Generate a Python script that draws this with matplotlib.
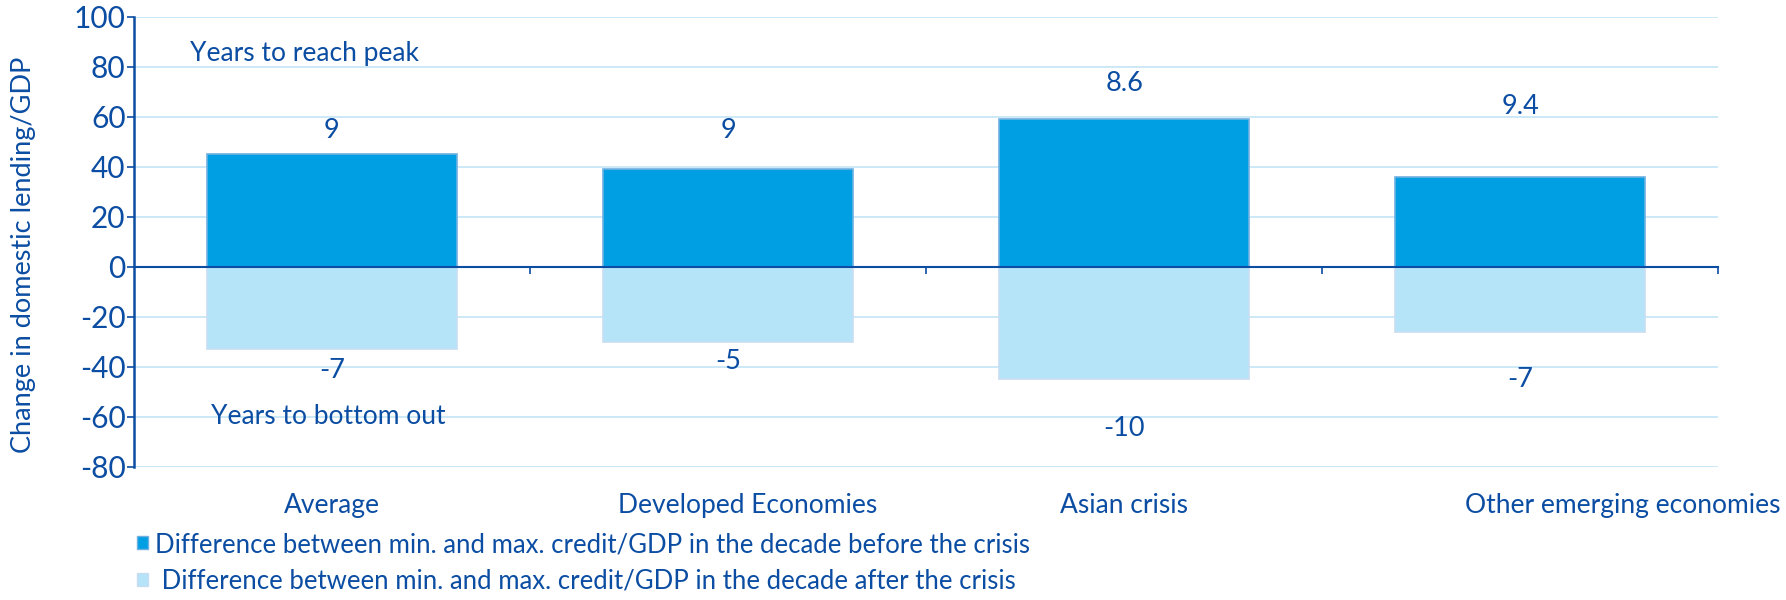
import matplotlib.pyplot as plt
from matplotlib.patches import Patch

categories = ['Average', 'Developed Economies', 'Asian crisis', 'Other emerging economies']
before = [45, 39, 59, 36]
after = [-33, -30, -45, -26]
years_peak = ['9', '9', '8.6', '9.4']
years_bottom = ['-7', '-5', '-10', '-7']
peak_label_y = [54.5, 54.5, 73.5, 64]
bottom_label_y = [-41.5, -38, -64.5, -45]
cat_label_shift = [0, 0.05, 0, 0.26]

navy = '#0B4DA2'
dark = '#009FE3'
light = '#B5E3F7'
grid = '#C3E4F5'

plt.rcParams['font.family'] = ['Lato', 'DejaVu Sans']
plt.rcParams['axes.unicode_minus'] = False

fig = plt.figure(figsize=(17.86, 6), dpi=100)
ax = fig.add_axes([0.075, 0.222, 0.887, 0.75])

x = [i + 0.5 for i in range(len(categories))]
ax.bar(x, before, width=0.63, color=dark, edgecolor='#6FB0E0', linewidth=1.2, zorder=3)
ax.bar(x, after, width=0.63, color=light, edgecolor='#C8DDF3', linewidth=1.2, zorder=3)

for xi, t, y in zip(x, years_peak, peak_label_y):
    ax.text(xi, y, t, ha='center', va='center', color=navy, fontsize=19.5)
for xi, t, y in zip(x, years_bottom, bottom_label_y):
    ax.text(xi, y, t, ha='center', va='center', color=navy, fontsize=19.5)

ax.text(0.43, 85.5, 'Years to reach peak', ha='center', va='center', color=navy, fontsize=19)
ax.text(0.49, -60, 'Years to bottom out', ha='center', va='center', color=navy, fontsize=19)

ax.set_xlim(0, 4)
ax.set_ylim(-80, 100)
ax.set_yticks(range(-80, 101, 20))
ax.yaxis.grid(True, color=grid, linewidth=1.2, zorder=0)
ax.set_axisbelow(True)

for s in ['top', 'right']:
    ax.spines[s].set_visible(False)
ax.spines['left'].set_color(navy)
ax.spines['left'].set_linewidth(1.8)
ax.spines['bottom'].set_position(('data', 0))
ax.spines['bottom'].set_color(navy)
ax.spines['bottom'].set_linewidth(1.5)
ax.spines['bottom'].set_zorder(4)

ax.set_xticks([1, 2, 3, 4])
ax.set_xticklabels([])
ax.tick_params(axis='x', direction='out', length=5, width=1.2, color=navy)
ax.tick_params(axis='y', direction='out', length=5, width=1.2, color=navy,
               labelcolor=navy, labelsize=21.5, pad=1)

for xi, c, dx in zip(x, categories, cat_label_shift):
    ax.text(xi + dx, -0.085, c, transform=ax.get_xaxis_transform(), ha='center', va='center',
            color=navy, fontsize=19)

ax.set_ylabel('Change in domestic lending/GDP', color=navy, fontsize=19.5)
ax.yaxis.set_label_coords(-0.062, 0.47)

handles = [Patch(facecolor=dark, edgecolor='#6FB0E0'),
           Patch(facecolor=light, edgecolor='#C8DDF3')]
labels = ['Difference between min. and max. credit/GDP in the decade before the crisis',
          ' Difference between min. and max. credit/GDP in the decade after the crisis']
leg = fig.legend(handles, labels, loc='lower left', bbox_to_anchor=(0.064, -0.028),
                 frameon=False, fontsize=18.5, handlelength=0.4, handleheight=0.4,
                 handletextpad=0.3, labelspacing=0.45)
for t in leg.get_texts():
    t.set_color(navy)

fig.savefig('out.png', dpi=100)
